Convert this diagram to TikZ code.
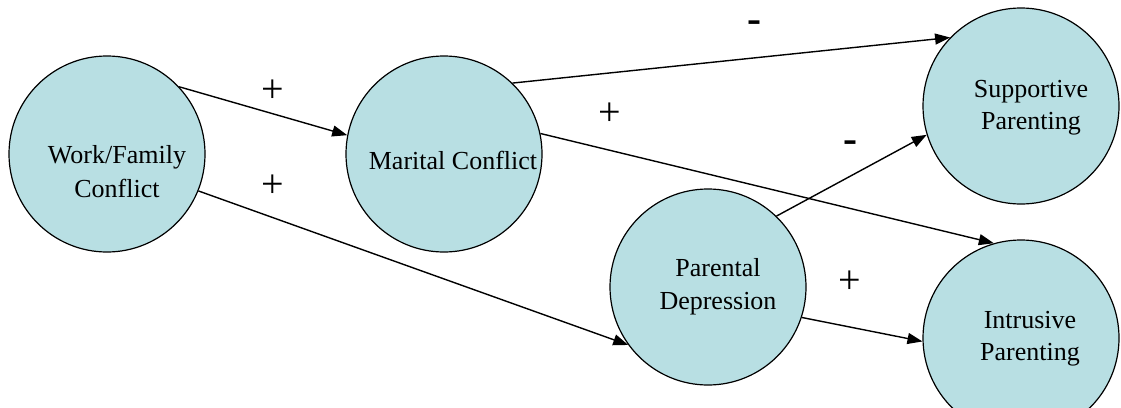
\documentclass[tikz,border=0pt]{standalone}
\usepackage{fontspec}
\setmainfont{Liberation Serif}
\usetikzlibrary{arrows.meta}
\definecolor{bubble}{RGB}{184,223,227}
\begin{document}
\begin{tikzpicture}[x=1pt,y=-1pt,
  bub/.style={circle,draw=black,line width=1.2pt,fill=bubble,minimum size=196pt,inner sep=0pt},
  txt/.style={anchor=base,inner sep=0pt,font=\fontsize{26}{32}\selectfont},
  plus/.style={inner sep=0pt,font=\fontsize{40}{48}\selectfont},
  minus/.style={inner sep=0pt,font=\fontsize{42}{50}\selectfont\bfseries},
  arr/.style={line width=1.4pt,-{Triangle[length=15pt,width=11pt]}}]
\useasboundingbox (0,0) rectangle (1121,407);
\fill[white] (0,0) rectangle (1121,407);
\begin{scope}
\clip (0,0) rectangle (1121,407);
\node[bub] (wf) at (107,154) {};
\node[bub] (mc) at (444,154) {};
\node[bub] (sp) at (1021,106) {};
\node[bub] (pd) at (708,287) {};
\node[bub] (ip) at (1021,338) {};
\end{scope}
\node[txt] (wf1) at (117,163) {Work/Family};
\node[txt] (wf2) at (117,197) {Conflict};
\node[txt] (mc1) at (453,169) {Marital Conflict};
\node[txt] (sp1) at (1031,97) {Supportive};
\node[txt] (sp2) at (1031,129) {Parenting};
\node[txt] (pd1) at (718,276) {Parental};
\node[txt] (pd2) at (718,309) {Depression};
\node[txt] (ip1) at (1030,328) {Intrusive};
\node[txt] (ip2) at (1030,360) {Parenting};
\draw[arr] (wf.43) -- (mc.169);
\draw[arr] (wf.-22) -- (pd.216);
\draw[arr] (mc.46) -- (sp.136);
\draw[arr] (mc.12) -- (ip.106);
\draw[arr] (pd.46) -- (sp.197);
\draw[arr] (pd.-18) -- (ip.182);
\node[plus] (l1) at (273,91) {+};
\node[plus] (l2) at (273,186) {+};
\node[minus] (l3) at (754,27) {-};
\node[plus] (l4) at (610,114) {+};
\node[minus] (l5) at (850,147) {-};
\node[plus] (l6) at (850,282) {+};
\end{tikzpicture}
\end{document}
